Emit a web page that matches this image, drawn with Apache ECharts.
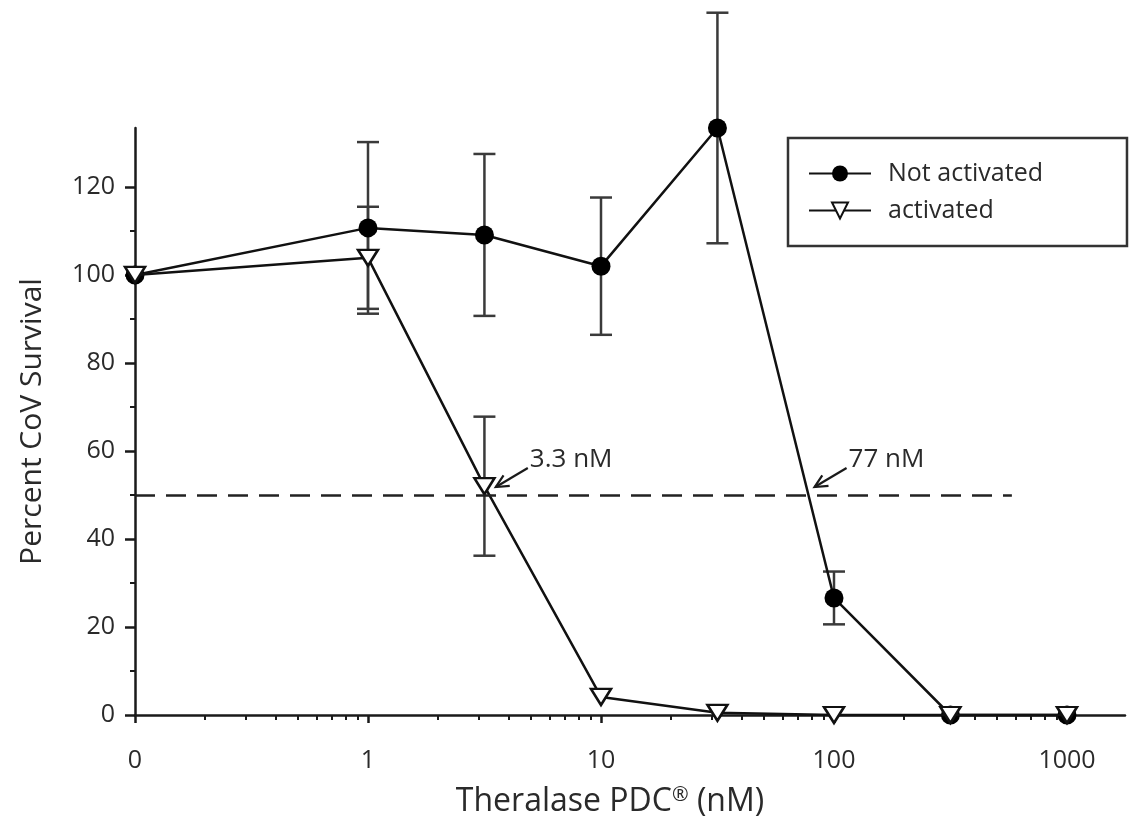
<!DOCTYPE html>
<html>
<head>
<meta charset="utf-8">
<title>CoV survival vs Theralase PDC</title>
<script src="https://cdn.jsdelivr.net/npm/echarts@6/dist/echarts.min.js"></script>
<style>
  html, body { margin: 0; padding: 0; background: #fff; }
  #chart { width: 1133px; height: 823px; }
</style>
</head>
<body>
<div id="chart"></div>
<script>
// concentrations in nM; the "0" dose is drawn at 0.1 on the log axis
var concNM = [0, 1, 3.16, 10, 31.6, 100, 316, 1000];
var notActivated = [100, 110.7, 109.1, 102, 133.4, 26.6, 0, 0];
var notActivatedErr = [0, 19.5, 18.4, 15.6, 26.2, 6, 0, 0];
var activated = [100, 103.9, 52, 4.1, 0.5, 0, 0, 0];
var activatedErr = [0, 11.6, 15.8, 0, 0, 0, 0, 0];

var xTickValues = [0, 1, 10, 100, 1000];
var yTickValues = [0, 20, 40, 60, 80, 100, 120];
var yMinorValues = [10, 30, 50, 70, 90, 110];

var ic50Line = 50;
var ic50Values = [3.3, 77];
var ic50Labels = ['3.3 nM', '77 nM'];

var zeroAt = 0.1;
var xMax = 1774;
var yMax = 133.4;
var FONT = 'Open Sans';
var INK = '#2a2a2a';

function toAxis(c) {
    return c === 0 ? zeroAt : c;
}

// minor ticks 2..9 in every decade below 1000
var xMinorValues = [];
[0.1, 1, 10, 100].forEach(function (d) {
    for (var k = 2; k <= 9; k++) xMinorValues.push(+(d * k).toPrecision(3));
});

var axisLine = {show: true, lineStyle: {color: '#1a1a1a', width: 2.5}};

function errorBars(name, values, errs) {
    var data = [];
    concNM.forEach(function (c, i) {
        if (errs[i] > 0) data.push([toAxis(c), values[i], errs[i]]);
    });
    return {
        type: 'custom', name: name, z: 2, clip: false, silent: true,
        encode: {x: 0, y: 1},
        data: data,
        renderItem: function (params, api) {
            var x = api.value(0), y = api.value(1), e = api.value(2);
            var hi = api.coord([x, y + e]);
            var lo = api.coord([x, y - e]);
            var w = 11;
            var st = {stroke: '#3a3a3a', lineWidth: 2.5};
            return {
                type: 'group',
                children: [
                    {type: 'line', shape: {x1: hi[0], y1: hi[1], x2: lo[0], y2: lo[1]}, style: st},
                    {type: 'line', shape: {x1: hi[0] - w, y1: hi[1], x2: hi[0] + w, y2: hi[1]}, style: st},
                    {type: 'line', shape: {x1: lo[0] - w, y1: lo[1], x2: lo[0] + w, y2: lo[1]}, style: st}
                ]
            };
        }
    };
}

var myChart = echarts.init(document.getElementById('chart'));

var option = {
    animation: false,
    backgroundColor: '#fff',
    grid: {left: 135, right: 8, top: 128, bottom: 108, containLabel: false, outerBoundsMode: 'none'},
    legend: {
        data: ['Not activated', 'activated'],
        orient: 'vertical',
        left: 788, top: 138,
        padding: [23, 84, 23, 20],
        itemWidth: 62, itemHeight: 20, itemGap: 12,
        borderColor: '#333', borderWidth: 2.5,
        textStyle: {fontFamily: FONT, fontSize: 25, color: INK, padding: [0, 0, 0, 12]}
    },
    xAxis: [
        {
            type: 'log', logBase: 10, min: zeroAt, max: xMax,
            axisLine: axisLine,
            axisTick: {show: true, customValues: xTickValues.map(toAxis), length: 8, lineStyle: {color: '#1a1a1a', width: 2.5}},
            axisLabel: {
                customValues: xTickValues.map(toAxis),
                formatter: function (v) { return v < 1 ? '0' : String(Math.round(v)); },
                fontFamily: FONT, fontSize: 25, color: INK, margin: 33
            },
            splitLine: {show: false},
            name: '{t|Theralase PDC}{sup|®}{t| (nM)}',
            nameLocation: 'middle', nameGap: 70,
            nameTextStyle: {
                padding: [0, 40, 0, 0],
                rich: {
                    t: {fontFamily: FONT, fontSize: 32, color: INK},
                    sup: {fontFamily: FONT, fontSize: 20, color: INK, padding: [0, 0, 14, 0]}
                }
            }
        },
        {
            type: 'log', logBase: 10, min: zeroAt, max: xMax, position: 'bottom',
            axisLine: {show: false},
            axisTick: {show: true, customValues: xMinorValues, length: 5, lineStyle: {color: '#1a1a1a', width: 2}},
            axisLabel: {show: false},
            splitLine: {show: false}
        }
    ],
    yAxis: [
        {
            type: 'value', min: 0, max: yMax,
            axisLine: axisLine,
            axisTick: {show: true, customValues: yTickValues, length: 10, lineStyle: {color: '#1a1a1a', width: 2.5}},
            axisLabel: {customValues: yTickValues, fontFamily: FONT, fontSize: 25, color: INK, margin: 20},
            splitLine: {show: false},
            name: 'Percent CoV Survival',
            nameLocation: 'middle', nameGap: 88,
            nameTextStyle: {fontFamily: FONT, fontSize: 30, color: INK}
        },
        {
            type: 'value', min: 0, max: yMax, position: 'left',
            axisLine: {show: false},
            axisTick: {show: true, customValues: yMinorValues, length: 5, lineStyle: {color: '#1a1a1a', width: 2}},
            axisLabel: {show: false},
            splitLine: {show: false}
        }
    ],
    series: [
        errorBars('err-not', notActivated, notActivatedErr),
        errorBars('err-act', activated, activatedErr),
        {
            name: 'Not activated', type: 'line', z: 3, clip: false,
            data: concNM.map(function (c, i) { return [toAxis(c), notActivated[i]]; }),
            symbol: 'circle', symbolSize: 19,
            itemStyle: {color: '#000'},
            lineStyle: {color: '#111', width: 2.5}
        },
        {
            name: 'activated', type: 'line', z: 4, clip: false,
            data: concNM.map(function (c, i) { return [toAxis(c), activated[i]]; }),
            symbol: 'triangle', symbolRotate: 180, symbolSize: [20, 16],
            itemStyle: {color: '#fff', borderColor: '#111', borderWidth: 2.5},
            lineStyle: {color: '#111', width: 2.5},
            markLine: {
                silent: true, symbol: 'none',
                label: {show: false},
                lineStyle: {color: '#222', width: 2.5, type: [20, 11]},
                data: [[{coord: [zeroAt, ic50Line]}, {coord: [580, ic50Line]}]]
            }
        },
        {
            type: 'custom', name: 'ic50', z: 5, clip: false, silent: true,
            encode: {x: 0, y: 1},
            data: ic50Values.map(function (v, i) { return [v, ic50Line, i]; }),
            renderItem: function (params, api) {
                var p = api.coord([api.value(0), api.value(1)]);
                var tip = [p[0] + 7, p[1] - 8];
                var tail = [p[0] + 39, p[1] - 27];
                var dx = tail[0] - tip[0], dy = tail[1] - tip[1];
                var len = Math.sqrt(dx * dx + dy * dy);
                var ux = dx / len, uy = dy / len;
                var head = 14, ang = 0.45;
                function rot(a) {
                    return [tip[0] + head * (ux * Math.cos(a) - uy * Math.sin(a)),
                            tip[1] + head * (ux * Math.sin(a) + uy * Math.cos(a))];
                }
                var h1 = rot(ang), h2 = rot(-ang);
                var st = {stroke: '#1a1a1a', lineWidth: 2.2, fill: null};
                return {
                    type: 'group',
                    children: [
                        {type: 'line', shape: {x1: tip[0], y1: tip[1], x2: tail[0], y2: tail[1]}, style: st},
                        {type: 'polyline', shape: {points: [h1, tip, h2]}, style: st},
                        {type: 'text', x: tail[0] + 2, y: p[1] - 35,
                         style: {text: ic50Labels[api.value(2)], fontFamily: FONT, fontSize: 26, fill: INK,
                                 align: 'left', verticalAlign: 'middle'}}
                    ]
                };
            }
        }
    ]
};

myChart.setOption(option);
</script>
</body>
</html>
